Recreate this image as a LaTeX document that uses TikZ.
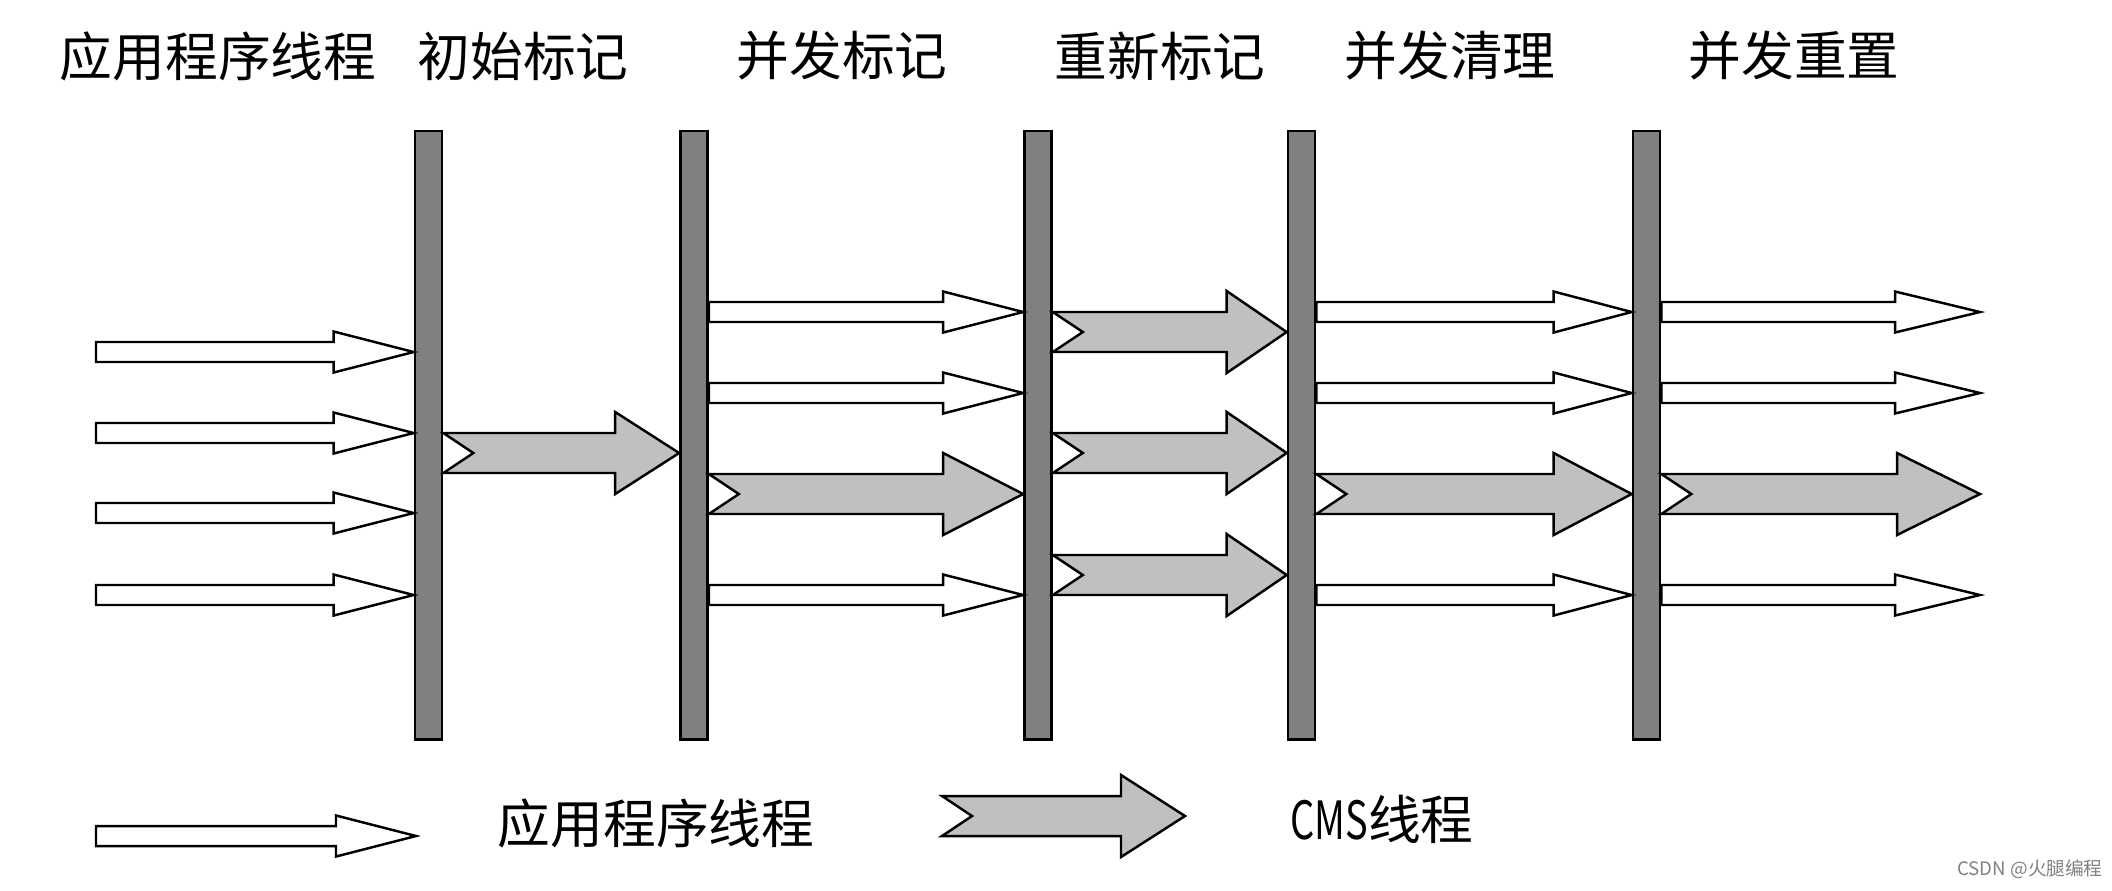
\documentclass[tikz,border=0pt]{standalone}
\usepackage{fontspec}
\setmainfont{Noto Sans CJK SC}
\usetikzlibrary{calc}

\definecolor{barfill}{RGB}{128,128,130}
\definecolor{cmsfill}{RGB}{192,192,192}

% block arrows: from, to, row, head length
\newcommand{\appthread}[4]{%
  \draw[app line] ($(#1 |- 0,#3)+(0,-10)$) -- ($(#2 |- 0,#3)+(-#4,-10)$)
    -- ++(0,-10.5) -- ($(#2 |- 0,#3)$) -- ($(#2 |- 0,#3)+(-#4,20.5)$)
    -- ++(0,-10.5) -- ($(#1 |- 0,#3)+(0,10)$) -- cycle;}
\newcommand{\cmsthread}[4]{%
  \draw[cms line] ($(#1 |- 0,#3)+(0,-20)$) -- ($(#2 |- 0,#3)+(-#4,-20)$)
    -- ++(0,-21) -- ($(#2 |- 0,#3)$) -- ($(#2 |- 0,#3)+(-#4,41)$)
    -- ++(0,-21) -- ($(#1 |- 0,#3)+(0,20)$) -- ($(#1 |- 0,#3)+(30,0)$) -- cycle;}

\begin{document}
\begin{tikzpicture}[x=0.01cm,y=-0.01cm,line join=miter,
    phase bar/.style={draw,fill=barfill,line width=0.75pt,minimum width=0.27cm,
      minimum height=6.08cm,inner sep=0pt},
    phase label/.style={font=\fontsize{15pt}{18pt}\selectfont,inner sep=0pt},
    app line/.style={fill=white,line width=0.7pt},
    cms line/.style={fill=cmsfill,line width=0.7pt}]

        \useasboundingbox (0,0) rectangle (2112,890);

        % Define bars
        \node[phase bar] (b1) at (428.5,435) {};
        \node[phase bar] (b2) at (694,435) {};
        \node[phase bar] (b3) at (1038,435) {};
        \node[phase bar] (b4) at (1301.5,435) {};
        \node[phase bar] (b5) at (1646.5,435) {};

        % Define labels
        \node[phase label] (t0) at (218,56) {应用程序线程};
        \node[phase label] (t1) at (523,56) {初始标记};
        \node[phase label] (t2) at (842,56) {并发标记};
        \node[phase label] (t3) at (1160,56) {重新标记};
        \node[phase label] (t4) at (1450,56) {并发清理};
        \node[phase label] (t5) at (1794,56) {并发重置};

        \coordinate (s0) at (96,0);
        \coordinate (e5) at (1980,0);

        % Draw threads
        \foreach \y in {352,433,513,595} {\appthread{s0}{b1.west}{\y}{80}}
        \cmsthread{b1.east}{b2.west}{453}{64}
        \foreach \y in {312,393,595} {\appthread{b2.east}{b3.west}{\y}{80}}
        \cmsthread{b2.east}{b3.west}{494}{80}
        \foreach \y in {332,453,575} {\cmsthread{b3.east}{b4.west}{\y}{60}}
        \foreach \y in {312,393,595} {\appthread{b4.east}{b5.west}{\y}{78}}
        \cmsthread{b4.east}{b5.west}{494}{78}
        \foreach \y in {312,393,595} {\appthread{b5.east}{e5}{\y}{85}}
        \cmsthread{b5.east}{e5}{494}{83}

        % Legend
        \coordinate (l0) at (96,836);
        \coordinate (l1) at (416,836);
        \appthread{l0}{l1}{836}{80}
        \node[phase label] (k0) at (656,823) {应用程序线程};
        \coordinate (l2) at (942,816);
        \coordinate (l3) at (1185,816);
        \cmsthread{l2}{l3}{816}{64}
        \node[phase label] (k1) at (1382,819) {\scalebox{0.72}[1]{CMS}线程};

        \node[font=\fontsize{5.3pt}{6pt}\selectfont,text=gray,inner sep=0pt] (wm) at (2030,869) {CSDN @火腿编程};

\end{tikzpicture}
\end{document}
